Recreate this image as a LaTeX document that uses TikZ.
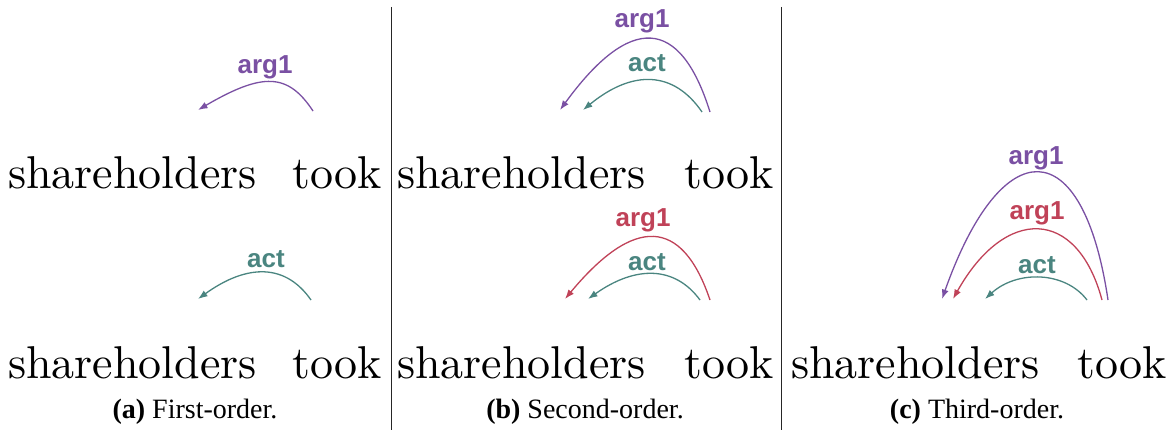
\documentclass[tikz,border=0pt]{standalone}
\usepackage{fontspec}
\usetikzlibrary{arrows.meta}
\newfontfamily\labelfont{Liberation Sans}
\newfontfamily\capfont{Liberation Serif}
\newfontfamily\wordfont{lmroman10-regular.otf}
\definecolor{relpurple}{RGB}{122,80,163}
\definecolor{relteal}{RGB}{74,133,128}
\definecolor{relred}{RGB}{192,66,88}
\tikzset{
  word/.style={anchor=base west, inner sep=0pt, font=\wordfont\fontsize{46}{46}\selectfont},
  lab/.style={anchor=base, inner sep=0pt, font=\labelfont\bfseries\fontsize{26}{26}\selectfont},
  capt/.style={anchor=base, inner sep=0pt, font=\capfont\fontsize{28}{28}\selectfont},
  rel/.style={line width=1.3pt, -{Latex[length=9.5pt,width=7pt]}},
  divider/.style={line width=0.8pt, black!85}
}
\begin{document}
\begin{tikzpicture}[x=1pt,y=-1pt]
\useasboundingbox (0,0) rectangle (1174,430);

% panel dividers
\coordinate (d1t) at (391,7);  \coordinate (d1b) at (391,430);
\coordinate (d2t) at (781,7);  \coordinate (d2b) at (781,430);
\draw[divider] (d1t) -- (d1b);
\draw[divider] (d2t) -- (d2b);

% ---------- (a) first-order ----------
\node[word] (a-sh1) at (8,189) {shareholders};
\node[word] (a-tk1) at (292,189) {took};
\node[word] (a-sh2) at (8,378) {shareholders};
\node[word] (a-tk2) at (292,378) {took};

\coordinate (a1s) at (313,111); \coordinate (a1t) at (198,110);
\draw[rel, relpurple] (a1s) .. controls ([shift={(-25,-38)}]a1s) and ([shift={(65,-38)}]a1t) .. (a1t);
\node[lab, text=relpurple] (a1l) at (265,74) {arg1};

\coordinate (a2s) at (311,300); \coordinate (a2t) at (198,299);
\draw[rel, relteal] (a2s) .. controls ([shift={(-25,-36)}]a2s) and ([shift={(50,-36)}]a2t) .. (a2t);
\node[lab, text=relteal] (a2l) at (266,267) {act};

\node[capt] (a-cap) at (195,418) {\textbf{(a)} First-order.};

% ---------- (b) second-order ----------
\node[word] (b-sh1) at (397,189) {shareholders};
\node[word] (b-tk1) at (684,189) {took};
\node[word] (b-sh2) at (397,378) {shareholders};
\node[word] (b-tk2) at (684,378) {took};

\coordinate (b1s) at (710,112); \coordinate (b1t) at (560,110);
\draw[rel, relpurple] (b1s) .. controls ([shift={(-30,-96)}]b1s) and ([shift={(70,-96)}]b1t) .. (b1t);
\node[lab, text=relpurple] (b1l) at (642,28) {arg1};

\coordinate (b2s) at (702,112); \coordinate (b2t) at (583,110);
\draw[rel, relteal] (b2s) .. controls ([shift={(-28,-41)}]b2s) and ([shift={(50,-41)}]b2t) .. (b2t);
\node[lab, text=relteal] (b2l) at (647,72) {act};

\coordinate (b3s) at (710,300); \coordinate (b3t) at (565,299);
\draw[rel, relred] (b3s) .. controls ([shift={(-28,-83)}]b3s) and ([shift={(69,-83)}]b3t) .. (b3t);
\node[lab, text=relred] (b3l) at (643,226) {arg1};

\coordinate (b4s) at (700,300); \coordinate (b4t) at (588,299);
\draw[rel, relteal] (b4s) .. controls ([shift={(-25,-34)}]b4s) and ([shift={(48,-34)}]b4t) .. (b4t);
\node[lab, text=relteal] (b4l) at (647,270) {act};

\node[capt] (b-cap) at (585,418) {\textbf{(b)} Second-order.};

% ---------- (c) third-order ----------
\node[word] (c-sh2) at (791,378) {shareholders};
\node[word] (c-tk2) at (1077,378) {took};

\coordinate (c1s) at (1108,300); \coordinate (c1t) at (942,299);
\draw[rel, relpurple] (c1s) .. controls ([shift={(-25,-169)}]c1s) and ([shift={(60,-169)}]c1t) .. (c1t);
\node[lab, text=relpurple] (c1l) at (1036,165) {arg1};

\coordinate (c2s) at (1102,300); \coordinate (c2t) at (953,299);
\draw[rel, relred] (c2s) .. controls ([shift={(-25,-93)}]c2s) and ([shift={(52,-93)}]c2t) .. (c2t);
\node[lab, text=relred] (c2l) at (1037,220) {arg1};

\coordinate (c3s) at (1087,300); \coordinate (c3t) at (985,299);
\draw[rel, relteal] (c3s) .. controls ([shift={(-22,-29)}]c3s) and ([shift={(32,-29)}]c3t) .. (c3t);
\node[lab, text=relteal] (c3l) at (1037,273) {act};

\node[capt] (c-cap) at (977,418) {\textbf{(c)} Third-order.};
\end{tikzpicture}
\end{document}
